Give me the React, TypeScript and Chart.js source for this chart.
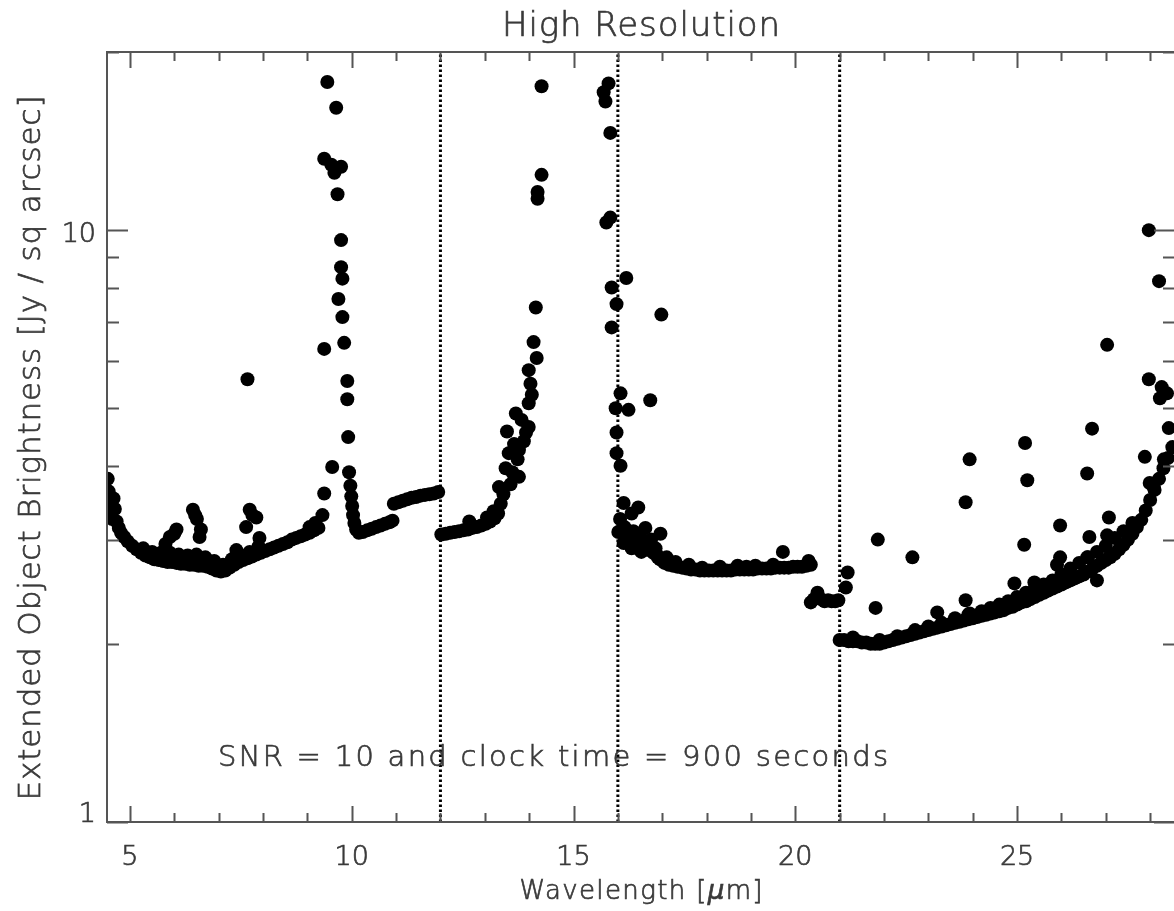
import React, { useEffect, useRef } from "react";
import { Chart, registerables } from "chart.js";

Chart.register(...registerables);

// ---------------- data (wavelength in micron, brightness in Jy / sq arcsec) ----------------
const CONT_A_WAVE = [4.50,4.52,4.55,4.57,4.60,4.63,4.66,4.70,4.75,4.80,4.87,4.95,5.05,5.15,5.25,5.35,5.45,5.55,5.65,5.75,5.85,5.95,6.05,6.15,6.25,6.35,6.45,6.55,6.65,6.75,6.85,6.95,7.05,7.15,7.25,7.35,7.45,7.55,7.65,7.75,7.85,7.95,8.05,8.15,8.25,8.35,8.45,8.55,8.65,8.75,8.85,8.95,9.05,9.15,9.25];
const CONT_A_FLUX = [3.80,3.62,3.45,3.33,3.25,3.52,3.38,3.22,3.14,3.08,3.03,2.98,2.93,2.89,2.85,2.82,2.80,2.78,2.77,2.76,2.75,2.75,2.74,2.73,2.73,2.72,2.72,2.71,2.71,2.70,2.68,2.66,2.65,2.66,2.69,2.72,2.75,2.77,2.79,2.81,2.83,2.85,2.87,2.89,2.91,2.93,2.95,2.97,3.00,3.02,3.04,3.06,3.08,3.11,3.14];

const CONT_A2_WAVE = [5.30,5.50,5.70,5.90,6.10,6.30,6.50,6.70,6.90,7.10,7.30,7.50,7.70,7.90];
const CONT_A2_FLUX = [2.90,2.86,2.85,2.85,2.83,2.82,2.83,2.80,2.76,2.72,2.78,2.82,2.86,2.92];

const BUMP_A_WAVE = [5.80,5.90,6.00,6.05,6.42,6.47,6.51,6.57,6.60,7.40,7.62,7.70,7.76,7.85,7.92,7.65,9.05,9.18];
const BUMP_A_FLUX = [2.95,3.03,3.07,3.12,3.37,3.30,3.25,3.03,3.12,2.88,3.15,3.37,3.30,3.27,3.02,5.60,3.15,3.20];

const PEAK1_WAVE = [9.34,9.38,9.38,9.38,9.45,9.54,9.56,9.61,9.65,9.68,9.70,9.76,9.76,9.76,9.79,9.79,9.83,9.90,9.90,9.92,9.94,9.97,9.99,10.01,10.03];
const PEAK1_FLUX = [3.30,3.59,6.30,13.2,17.8,12.9,3.98,12.5,16.1,11.5,7.65,12.8,9.62,8.66,8.28,7.13,6.45,5.56,5.18,4.47,3.90,3.70,3.55,3.42,3.30];

const SHELF1_WAVE = [10.06,10.10,10.16,10.25,10.35,10.45,10.55,10.65,10.75,10.85,10.92];
const SHELF1_FLUX = [3.20,3.12,3.08,3.09,3.11,3.13,3.15,3.17,3.19,3.21,3.23];

const SHELF2_WAVE = [10.95,11.05,11.15,11.25,11.35,11.45,11.55,11.65,11.75,11.85,11.95];
const SHELF2_FLUX = [3.45,3.47,3.49,3.51,3.53,3.54,3.56,3.57,3.58,3.59,3.61];

const SHELF3_WAVE = [12.02,12.12,12.22,12.32,12.42,12.52,12.62,12.72,12.82,12.92,13.02,13.12,13.22,13.30,12.65,13.05,13.20];
const SHELF3_FLUX = [3.06,3.07,3.08,3.09,3.10,3.11,3.12,3.14,3.15,3.17,3.19,3.22,3.26,3.32,3.22,3.27,3.35];

const PEAK2_WAVE = [13.32,13.36,13.42,13.47,13.50,13.54,13.58,13.62,13.66,13.70,13.74,13.77,13.77,13.83,13.88,13.93,13.99,13.99,13.99,14.03,14.06,14.10,14.15,14.17,14.19,14.19,14.28,14.28];
const PEAK2_FLUX = [3.68,3.45,3.58,3.96,4.57,4.20,3.72,3.90,4.35,4.90,4.10,3.83,4.25,4.78,4.40,4.55,4.65,5.10,5.80,5.50,5.27,6.47,7.40,6.08,11.3,11.6,12.4,17.5];

const PEAK3_WAVE = [15.68,15.72,15.79,15.83,15.74,15.83,15.86,15.97,16.19,15.86,16.06,15.95,16.24,15.97,15.97,16.06,16.73,16.98];
const PEAK3_FLUX = [17.1,16.5,17.7,14.6,10.3,10.5,8.0,7.5,8.3,6.85,5.3,5.0,4.97,4.55,4.2,4.0,5.16,7.2];

const CLUSTER_WAVE = [16.01,16.05,16.13,16.13,16.20,16.31,16.31,16.40,16.46,16.53,16.62,16.69,16.80,16.85,16.96,16.90,17.00,16.25,16.35,16.50,16.58,16.70,16.75,16.88,16.95,16.15,16.45];
const CLUSTER_FLUX = [3.09,3.25,3.46,2.96,3.05,3.32,2.90,3.00,3.40,2.86,3.14,2.96,2.85,2.90,3.07,2.80,2.77,2.95,3.10,3.05,2.92,2.88,3.00,2.83,2.78,3.15,2.90];

const FLAT_WAVE = [17.05,17.15,17.25,17.35,17.45,17.55,17.65,17.75,17.85,17.95,18.05,18.15,18.25,18.35,18.45,18.55,18.65,18.75,18.85,18.95,19.05,19.15,19.25,19.35,19.45,19.55,19.65,19.75,19.85,19.95,20.05,20.15,20.25,20.35,17.10,17.30,17.60,17.90,18.30,18.70,18.90,19.10,19.50,19.72,20.30];
const FLAT_FLUX = [2.74,2.72,2.71,2.70,2.69,2.68,2.67,2.67,2.66,2.66,2.66,2.66,2.66,2.66,2.66,2.66,2.67,2.67,2.67,2.67,2.67,2.68,2.68,2.68,2.68,2.69,2.69,2.69,2.69,2.70,2.70,2.70,2.71,2.72,2.80,2.75,2.72,2.69,2.70,2.71,2.70,2.71,2.72,2.86,2.76];

const DIP_WAVE = [20.35,20.42,20.50,20.58,20.66,20.74,20.82,20.90,20.97,21.14,21.18];
const DIP_FLUX = [2.35,2.38,2.44,2.38,2.36,2.37,2.36,2.36,2.37,2.49,2.64];

const CONT_D_WAVE = [21.0,21.1,21.2,21.3,21.4,21.5,21.6,21.7,21.8,21.9,22.0,22.1,22.2,22.3,22.4,22.5,22.6,22.7,22.8,22.9,23.0,23.1,23.2,23.3,23.4,23.5,23.6,23.7,23.8,23.9,24.0,24.1,24.2,24.3,24.4,24.5,24.6,24.7,24.8,24.9,25.0,25.1,25.2,25.3,25.4,25.5,25.6,25.7,25.8,25.9,26.0,26.1,26.2,26.3,26.4,26.5,26.6,26.7,26.8,26.9,27.0,27.1,27.2,27.3,27.4,27.5,27.6,27.7,27.8,27.9,28.0,28.1,28.2,28.3,28.4,28.5];
const CONT_D_FLUX = [2.03,2.03,2.02,2.02,2.02,2.01,2.01,2.00,2.00,2.00,2.01,2.02,2.03,2.04,2.05,2.06,2.07,2.08,2.09,2.10,2.11,2.12,2.13,2.14,2.15,2.16,2.17,2.18,2.19,2.20,2.21,2.22,2.23,2.24,2.25,2.26,2.27,2.28,2.30,2.31,2.33,2.35,2.36,2.38,2.40,2.42,2.44,2.46,2.48,2.50,2.52,2.54,2.56,2.58,2.60,2.62,2.65,2.68,2.71,2.74,2.77,2.80,2.84,2.89,2.94,3.00,3.07,3.15,3.24,3.36,3.50,3.64,3.80,3.96,4.12,4.30];

const CONT_E_WAVE = [21.3,21.9,22.3,22.7,23.0,23.3,23.6,23.9,24.2,24.4,24.6,24.8,25.0,25.2,25.4,25.6,25.8,26.0,26.2,26.4,26.6,26.8,27.0,27.2,27.4,27.6];
const CONT_E_FLUX = [2.05,2.03,2.06,2.11,2.14,2.17,2.21,2.24,2.27,2.30,2.33,2.36,2.40,2.44,2.48,2.52,2.56,2.62,2.68,2.74,2.80,2.86,2.93,3.02,3.10,3.20];

const OUTLIER_WAVE = [21.81,21.86,22.64,23.20,23.84,23.84,23.93,23.93,24.94,25.16,25.18,25.23,25.39,25.90,25.97,25.97,26.58,26.58,26.63,26.69,26.80,27.03,27.07,27.10,27.03,27.88,27.99,28.08,27.97,28.20,28.22,28.26,28.31,28.38,28.42,27.97];
const OUTLIER_FLUX = [2.30,3.00,2.80,2.26,2.37,3.47,2.25,4.10,2.53,2.94,4.37,3.78,2.54,2.72,2.80,3.17,2.80,3.88,3.03,4.62,2.56,3.05,3.27,2.82,6.40,4.14,3.74,3.68,10.0,8.2,5.20,5.43,4.10,5.30,4.63,5.60];

// ---------------- axes ----------------
const X_MIN = 4.483;
const X_MAX = 28.56;
const Y_MIN = 1;
const Y_MAX = 20;
const X_TICKS = [5,6,7,8,9,10,11,12,13,14,15,16,17,18,19,20,21,22,23,24,25,26,27,28];
const X_TICK_LABELS = [5,10,15,20,25];
const Y_TICKS = [1,2,3,4,5,6,7,8,9,10,20];
const Y_TICK_LABELS = [1,10];
const DIVIDER_WAVES = [12,16,21];

const TITLE = "High Resolution";
const X_TITLE_RUNS = [
  { text: "Wavelength [", italic: false },
  { text: "\u03bc", italic: true },
  { text: "m]", italic: false },
];
const Y_TITLE = "Extended Object Brightness [Jy / sq arcsec]";
const NOTE = "SNR = 10 and clock time = 900 seconds";

const FONT = '"DejaVu Sans", "Liberation Sans", sans-serif';
const TEXT_COLOR = "#3a3a3a";
const AXIS_COLOR = "#555555";

const SEGMENTS: [number[], number[]][] = [
  [CONT_A_WAVE, CONT_A_FLUX],
  [CONT_A2_WAVE, CONT_A2_FLUX],
  [BUMP_A_WAVE, BUMP_A_FLUX],
  [PEAK1_WAVE, PEAK1_FLUX],
  [SHELF1_WAVE, SHELF1_FLUX],
  [SHELF2_WAVE, SHELF2_FLUX],
  [SHELF3_WAVE, SHELF3_FLUX],
  [PEAK2_WAVE, PEAK2_FLUX],
  [PEAK3_WAVE, PEAK3_FLUX],
  [CLUSTER_WAVE, CLUSTER_FLUX],
  [FLAT_WAVE, FLAT_FLUX],
  [DIP_WAVE, DIP_FLUX],
  [CONT_D_WAVE, CONT_D_FLUX],
  [CONT_E_WAVE, CONT_E_FLUX],
  [OUTLIER_WAVE, OUTLIER_FLUX],
];

function pairs(w: number[], f: number[]) {
  return w.map((x, i) => ({ x, y: f[i] }));
}

function fontStr(size: number, italic?: boolean) {
  return `${italic ? "italic " : ""}200 ${size}px ${FONT}`;
}

type Run = { text: string; italic?: boolean };

function drawRuns(ctx: CanvasRenderingContext2D, runs: Run[], size: number, x: number, y: number, target: number, align: "left" | "center") {
  let natural = 0;
  let chars = 0;
  (ctx as any).letterSpacing = "0px";
  for (const r of runs) {
    ctx.font = fontStr(size, r.italic);
    natural += ctx.measureText(r.text).width;
    chars += Array.from(r.text).length;
  }
  const ls = chars > 1 ? (target - natural) / (chars - 1) : 0;
  let cx = align === "center" ? x - target / 2 : x;
  ctx.textAlign = "left";
  ctx.textBaseline = "alphabetic";
  for (const r of runs) {
    ctx.font = fontStr(size, r.italic);
    (ctx as any).letterSpacing = "0px";
    const w = ctx.measureText(r.text).width;
    (ctx as any).letterSpacing = `${ls}px`;
    ctx.fillText(r.text, cx, y);
    ctx.strokeText(r.text, cx, y);
    cx += w + Array.from(r.text).length * ls;
  }
  (ctx as any).letterSpacing = "0px";
}

const idlFrame = {
  id: "idlFrame",
  afterDatasetsDraw(chart: any) {
    const { ctx, chartArea } = chart;
    const { left, right, top, bottom } = chartArea;
    const xs = chart.scales.x;
    const ys = chart.scales.y;
    ctx.save();
    ctx.strokeStyle = AXIS_COLOR;
    ctx.lineWidth = 2;
    ctx.strokeRect(left, top, right - left, bottom - top);
    ctx.beginPath();
    for (const t of X_TICKS) {
      const px = Math.round(xs.getPixelForValue(t)) + 0.5;
      const len = X_TICK_LABELS.includes(t) ? 16 : 9;
      ctx.moveTo(px, bottom);
      ctx.lineTo(px, bottom - len);
      ctx.moveTo(px, top);
      ctx.lineTo(px, top + len);
    }
    for (const t of Y_TICKS) {
      const py = Math.round(ys.getPixelForValue(t)) + 0.5;
      const len = Y_TICK_LABELS.includes(t) ? 21 : 12;
      ctx.moveTo(left, py);
      ctx.lineTo(left + len, py);
      ctx.moveTo(right, py);
      ctx.lineTo(right - len, py);
    }
    ctx.stroke();

    ctx.fillStyle = TEXT_COLOR;
    ctx.strokeStyle = TEXT_COLOR;
    ctx.lineWidth = 0.7;
    // tick labels
    ctx.font = fontStr(27);
    ctx.textBaseline = "alphabetic";
    ctx.textAlign = "center";
    for (const t of X_TICK_LABELS) {
      const px = xs.getPixelForValue(t);
      ctx.fillText(String(t), px, bottom + 43);
      ctx.strokeText(String(t), px, bottom + 43);
    }
    ctx.textAlign = "right";
    for (const t of Y_TICK_LABELS) {
      const py = Math.min(ys.getPixelForValue(t) + 12, bottom);
      ctx.fillText(String(t), left - 11, py);
      ctx.strokeText(String(t), left - 11, py);
    }

    const cxMid = (left + right) / 2;
    drawRuns(ctx, [{ text: TITLE }], 34, cxMid, 36, 278, "center");
    drawRuns(ctx, X_TITLE_RUNS, 26, cxMid, 899, 243, "center");
    drawRuns(ctx, [{ text: NOTE }], 29, 218, 766, 670, "left");

    ctx.save();
    ctx.translate(40, 448);
    ctx.rotate(-Math.PI / 2);
    drawRuns(ctx, [{ text: Y_TITLE }], 31, 0, 0, 705, "center");
    ctx.restore();

    ctx.restore();
  },
};

export default function App() {
  const ref = useRef<HTMLCanvasElement | null>(null);

  useEffect(() => {
    const canvas = ref.current;
    if (!canvas) return;
    const datasets: any[] = [];
    for (const w of DIVIDER_WAVES) {
      datasets.push({
        type: "line",
        data: [
          { x: w, y: Y_MIN },
          { x: w, y: Y_MAX },
        ],
        borderColor: "#000000",
        borderWidth: 3,
        borderDash: [2.5, 2.5],
        pointRadius: 0,
        showLine: true,
        fill: false,
      });
    }
    for (const [w, f] of SEGMENTS) {
      datasets.push({
        type: "scatter",
        data: pairs(w, f),
        pointRadius: 7,
        pointBackgroundColor: "#000000",
        pointBorderWidth: 0,
        borderColor: "#000000",
        showLine: false,
      });
    }
    const chart = new Chart(canvas, {
      type: "scatter",
      data: { datasets },
      options: {
        responsive: false,
        animation: false,
        events: [],
        layout: { padding: { left: 107, right: 4, top: 52, bottom: 89 } },
        scales: {
          x: { type: "linear", min: X_MIN, max: X_MAX, display: false },
          y: { type: "logarithmic", min: Y_MIN, max: Y_MAX, display: false },
        },
        plugins: {
          legend: { display: false },
          tooltip: { enabled: false },
          title: { display: false },
        },
      },
      plugins: [idlFrame],
    } as any);
    return () => chart.destroy();
  }, []);

  return (
    <div style={{ position: "fixed", left: 0, top: 0, width: 1174, height: 911, overflow: "hidden", background: "#ffffff" }}>
      <canvas ref={ref} width={1182} height={911} style={{ display: "block", width: 1182, height: 911 }} />
    </div>
  );
}
